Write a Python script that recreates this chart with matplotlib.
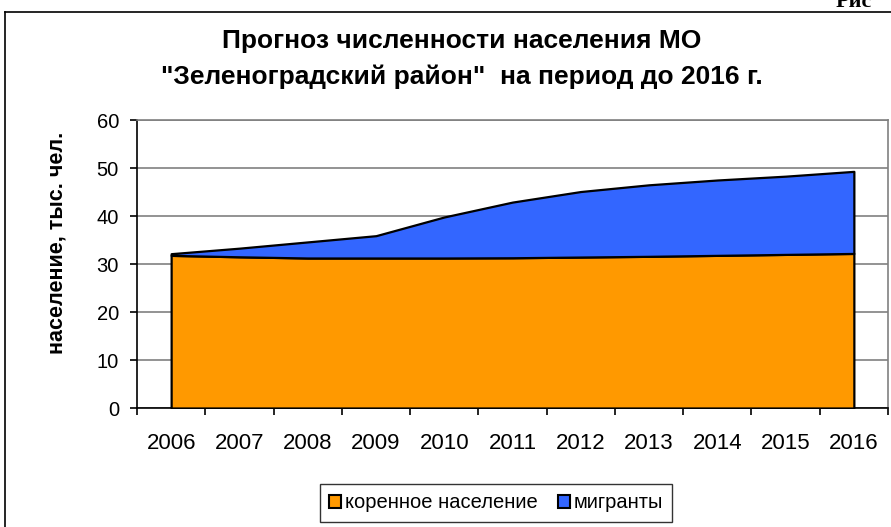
import matplotlib
matplotlib.use('Agg')
import matplotlib.pyplot as plt
from matplotlib.lines import Line2D
from matplotlib.patches import Patch

plt.rcParams['font.family'] = ['Liberation Sans', 'DejaVu Sans']

# data (thousand people)
years = ['2006', '2007', '2008', '2009', '2010', '2011',
         '2012', '2013', '2014', '2015', '2016']
native = [31.8, 31.5, 31.25, 31.25, 31.25, 31.3, 31.45, 31.6, 31.8, 32.0, 32.2]
total = [32.15, 33.3, 34.6, 35.9, 39.8, 42.9, 45.1, 46.5, 47.5, 48.3, 49.3]
migrants = [t - n for t, n in zip(total, native)]
yticks = [0, 10, 20, 30, 40, 50, 60]

ORANGE = '#FF9900'
BLUE = '#3366FF'

W, H = 891, 527
fig = plt.figure(figsize=(W / 100, H / 100), dpi=100)
ax = fig.add_axes([137 / W, 1 - 408 / H, (888 - 137) / W, (408 - 120) / H])

x = list(range(len(years)))
ax.stackplot(x, native, migrants, colors=[ORANGE, BLUE],
             edgecolor='black', linewidth=1.6, zorder=3)

ax.set_xlim(-0.5, len(years) - 0.5)
ax.set_ylim(0, 60)
ax.set_yticks(yticks)
ax.set_yticklabels([str(v) for v in yticks], fontsize=14.5)
ax.grid(axis='y', color='#808080', linewidth=1.2, zorder=0)

# category ticks between years, labels at centers
ax.set_xticks([i - 0.5 for i in range(len(years) + 1)])
ax.set_xticklabels([])
ax.set_xticks(x, minor=True)
ax.set_xticklabels(years, minor=True, fontsize=16)
ax.tick_params(axis='x', which='minor', length=0, pad=18)
ax.tick_params(axis='x', which='major', length=5, width=1.2, color='black')
ax.tick_params(axis='y', length=5, width=1.2, pad=8)

for side in ['top', 'right']:
    ax.spines[side].set_color('#808080')
    ax.spines[side].set_linewidth(1.2)
for side in ['left', 'bottom']:
    ax.spines[side].set_color('black')
    ax.spines[side].set_linewidth(1.2)

ax.set_ylabel('население, тыс. чел.', fontsize=15.5, fontweight='bold')
ax.yaxis.set_label_coords(-0.092, 0.575)

fig.text(462 / W, 1 - 59 / H,
         'Прогноз численности населения МО\n"Зеленоградский район"  на период до 2016 г.',
         ha='center', va='center', fontsize=19, fontweight='bold', linespacing=1.55)

# outer chart frame (partly cut off)
fig.add_artist(Line2D([5 / W, 1], [1 - 12 / H, 1 - 12 / H], color='black', linewidth=1.2))
fig.add_artist(Line2D([5 / W, 5 / W], [0, 1 - 12 / H], color='black', linewidth=1.2))
fig.text(836 / W, 1 - 7 / H, 'Рис', ha='left', va='baseline', fontsize=16,
         fontweight='bold', family=['Liberation Serif', 'DejaVu Serif'])

handles = [Patch(facecolor=ORANGE, edgecolor='black', linewidth=1.5),
           Patch(facecolor=BLUE, edgecolor='black', linewidth=1.5)]
leg = fig.legend(handles, ['коренное население', 'мигранты'], loc='center',
                 bbox_to_anchor=(496 / W, 1 - 503 / H), ncol=2, fontsize=14.5,
                 frameon=True, fancybox=False, handlelength=0.6, handleheight=0.6,
                 handletextpad=0.2, columnspacing=1.0, borderpad=0.45)
leg.get_frame().set_edgecolor('black')
leg.get_frame().set_linewidth(1.0)

fig.savefig('out.png', dpi=100)
